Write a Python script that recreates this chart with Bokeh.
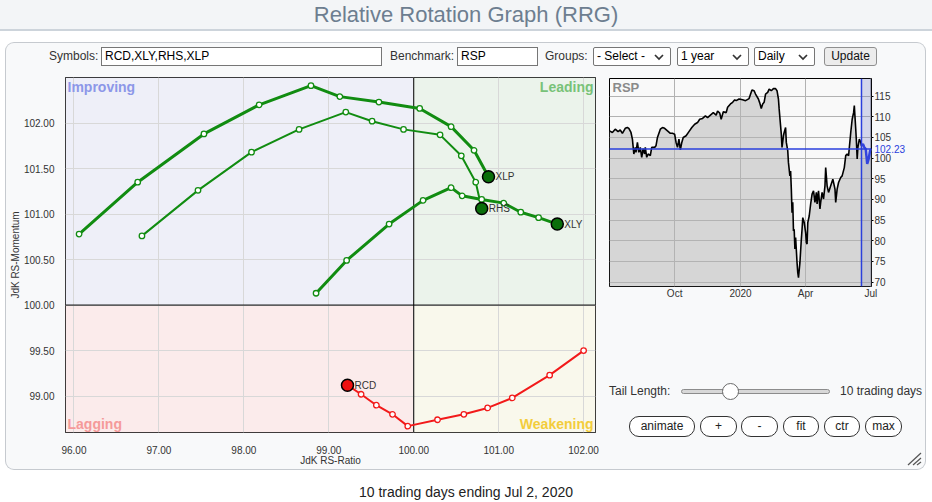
import datetime as dt
from bokeh.plotting import figure
from bokeh.models import (Range1d, Div, Label, Span, BoxAnnotation, FixedTicker,
                          NumeralTickFormatter)
from bokeh.layouts import column, row
from bokeh.embed import file_html
from bokeh.resources import INLINE
from bokeh.core.properties import value

FONT = "Liberation Sans"

# ---------------- RRG data (JdK RS-Ratio / JdK RS-Momentum), oldest -> latest ----------------
xlp_ratio = [96.06, 96.75, 97.53, 98.18, 98.79, 99.13, 99.59, 100.07, 100.44, 100.71, 100.88]
xlp_momentum = [100.78, 101.35, 101.88, 102.20, 102.41, 102.29, 102.23, 102.16, 101.96, 101.70, 101.41]
rhs_ratio = [96.80, 97.46, 98.09, 98.65, 99.20, 99.51, 99.88, 100.31, 100.56, 100.73, 100.80]
rhs_momentum = [100.76, 101.26, 101.68, 101.93, 102.12, 102.02, 101.93, 101.87, 101.64, 101.35, 101.06]
xly_ratio = [98.85, 99.21, 99.71, 100.11, 100.44, 100.57, 100.80, 101.06, 101.26, 101.47, 101.69]
xly_momentum = [100.13, 100.49, 100.89, 101.15, 101.29, 101.20, 101.16, 101.12, 101.02, 100.96, 100.89]
rcd_ratio = [102.00, 101.60, 101.16, 100.87, 100.59, 100.28, 99.93, 99.75, 99.56, 99.38, 99.22]
rcd_momentum = [99.50, 99.23, 98.98, 98.87, 98.80, 98.74, 98.67, 98.80, 98.90, 99.02, 99.12]

rrg_x_range = (95.90, 102.14)
rrg_y_range = (98.60, 102.50)
rrg_center = 100.0
rrg_x_ticks = [96, 97, 98, 99, 100, 101, 102]
rrg_y_ticks = [99.0, 99.5, 100.0, 100.5, 101.0, 101.5, 102.0]
quadrant_names = ["Improving", "Leading", "Lagging", "Weakening"]

# ---------------- Benchmark (RSP) price ----------------
rsp_dates = [
    "2019-07-02", "2019-07-06", "2019-07-10", "2019-07-14", "2019-07-17", "2019-07-20",
    "2019-07-24", "2019-07-27", "2019-07-29", "2019-08-01", "2019-08-03", "2019-08-05",
    "2019-08-07", "2019-08-08", "2019-08-10", "2019-08-12", "2019-08-14", "2019-08-16",
    "2019-08-18", "2019-08-20", "2019-08-21", "2019-08-23", "2019-08-25", "2019-08-28",
    "2019-08-30", "2019-09-03", "2019-09-05", "2019-09-07", "2019-09-11", "2019-09-14",
    "2019-09-17", "2019-09-21", "2019-09-25", "2019-09-28", "2019-10-01", "2019-10-03",
    "2019-10-05", "2019-10-07", "2019-10-09", "2019-10-11", "2019-10-13", "2019-10-17",
    "2019-10-21", "2019-10-25", "2019-10-29", "2019-11-02", "2019-11-05", "2019-11-09",
    "2019-11-13", "2019-11-16", "2019-11-20", "2019-11-24", "2019-11-28", "2019-11-30",
    "2019-12-03", "2019-12-05", "2019-12-08", "2019-12-12", "2019-12-14", "2019-12-18",
    "2019-12-21", "2019-12-24", "2019-12-26", "2019-12-30", "2020-01-04", "2020-01-08",
    "2020-01-13", "2020-01-17", "2020-01-20", "2020-01-22", "2020-01-26", "2020-01-28",
    "2020-01-30", "2020-02-01", "2020-02-03", "2020-02-05", "2020-02-08", "2020-02-10",
    "2020-02-13", "2020-02-16", "2020-02-19", "2020-02-21", "2020-02-23", "2020-02-24",
    "2020-02-26", "2020-02-27", "2020-02-28", "2020-03-01", "2020-03-02", "2020-03-04",
    "2020-03-05", "2020-03-07", "2020-03-08", "2020-03-10", "2020-03-11", "2020-03-12",
    "2020-03-13", "2020-03-14", "2020-03-15", "2020-03-16", "2020-03-17", "2020-03-18",
    "2020-03-20", "2020-03-21", "2020-03-22", "2020-03-24", "2020-03-26", "2020-03-27",
    "2020-03-28", "2020-03-30", "2020-04-01", "2020-04-02", "2020-04-03", "2020-04-04",
    "2020-04-06", "2020-04-08", "2020-04-10", "2020-04-12", "2020-04-14", "2020-04-16",
    "2020-04-17", "2020-04-19", "2020-04-21", "2020-04-22", "2020-04-24", "2020-04-26",
    "2020-04-28", "2020-04-29", "2020-05-01", "2020-05-03", "2020-05-06", "2020-05-09",
    "2020-05-12", "2020-05-13", "2020-05-15", "2020-05-17", "2020-05-20", "2020-05-22",
    "2020-05-25", "2020-05-27", "2020-05-29", "2020-05-31", "2020-06-03", "2020-06-05",
    "2020-06-07", "2020-06-08", "2020-06-09", "2020-06-10", "2020-06-11", "2020-06-12",
    "2020-06-13", "2020-06-15", "2020-06-17", "2020-06-18", "2020-06-20", "2020-06-22",
    "2020-06-24", "2020-06-26", "2020-06-28", "2020-06-30", "2020-07-02",
]
rsp_close = [
    106.6, 106.2, 107.0, 106.4, 106.8, 106.0,
    107.2, 107.4, 107.2, 106.2, 104.6, 101.0,
    102.6, 101.4, 103.8, 101.4, 102.6, 100.2,
    102.3, 101.0, 102.6, 100.2, 101.0, 100.6,
    102.6, 102.6, 103.0, 105.0, 107.0, 107.4,
    107.2, 106.6, 106.0, 106.0, 105.8, 103.8,
    102.6, 104.6, 102.0, 103.8, 105.0, 105.4,
    106.4, 107.4, 108.2, 108.6, 109.4, 109.6,
    110.2, 109.8, 110.4, 111.0, 110.4, 111.4,
    110.9, 109.4, 111.2, 111.0, 112.3, 113.1,
    113.5, 114.1, 113.9, 114.3, 114.1, 113.9,
    114.4, 116.5, 116.3, 115.5, 114.3, 113.3,
    112.0, 113.1, 113.5, 115.5, 115.9, 116.7,
    116.3, 116.8, 116.8, 116.3, 114.3, 111.9,
    107.8, 105.8, 102.6, 105.4, 106.2, 107.4,
    103.8, 101.8, 98.9, 95.7, 96.9, 92.5,
    86.8, 89.3, 82.4, 82.8, 78.0, 80.8,
    74.7, 72.3, 71.1, 74.7, 80.4, 82.8,
    85.6, 84.4, 82.0, 79.6, 79.2, 84.4,
    86.0, 88.9, 91.3, 92.1, 89.3, 91.7,
    88.9, 92.1, 87.7, 89.3, 91.7, 90.1,
    93.3, 97.7, 93.3, 91.7, 93.3, 94.9,
    92.5, 89.3, 92.5, 94.1, 95.3, 95.7,
    97.7, 100.6, 101.0, 100.6, 106.2, 109.4,
    111.0, 112.7, 109.8, 107.0, 103.8, 99.8,
    102.6, 104.6, 103.8, 103.0, 103.4, 102.6,
    102.2, 98.6, 99.8, 101.8, 102.23,
]
rsp_last = 102.23
tail_start = "2020-06-18"
mini_x_range = ("2019-07-02", "2020-07-02")
mini_y_range = (68.94, 119.26)
mini_y_ticks = [70, 75, 80, 85, 90, 95, 100, 105, 110, 115]
mini_x_ticks = ["2019-10-01", "2020-01-01", "2020-04-01", "2020-07-01"]
mini_x_labels = ["Oct", "2020", "Apr", "Jul"]

footer_text = "10 trading days ending Jul 2, 2020"


def to_dt(s):
    return dt.datetime.strptime(s, "%Y-%m-%d")


def to_ms(s):
    return (to_dt(s) - dt.datetime(1970, 1, 1)).total_seconds() * 1000.0


PANEL_BG = "#f8f9fa"
GREEN = "#118c11"
HEAD_GREEN = "#0a6e0a"
RED = "#f21a1a"
HEAD_RED = "#ee1111"

# ---------------- RRG figure ----------------
p = figure(width=596, height=397, x_range=Range1d(*rrg_x_range), y_range=Range1d(*rrg_y_range),
           output_backend="svg", toolbar_location=None, margin=0,
           min_border_left=59, min_border_right=7, min_border_top=5, min_border_bottom=37,
           border_fill_color=None, background_fill_color="white",
           outline_line_color="black", outline_line_width=1)

x0, x1 = rrg_x_range
y0, y1 = rrg_y_range
c = rrg_center
p.quad(left=[x0, c, x0, c], right=[c, x1, c, x1], bottom=[c, c, y0, y0], top=[y1, y1, c, c],
       fill_color=["#eeeff8", "#ebf3eb", "#fbebeb", "#f9f8ec"], line_color=None, level="image")

p.xaxis.ticker = FixedTicker(ticks=rrg_x_ticks)
p.yaxis.ticker = FixedTicker(ticks=rrg_y_ticks)
for ax in (p.xaxis, p.yaxis):
    ax.formatter = NumeralTickFormatter(format="0.00")
    ax.axis_line_color = None
    ax.major_tick_line_color = None
    ax.minor_tick_line_color = None
    ax.major_tick_out = 0
    ax.major_tick_in = 0
    ax.major_label_text_font = FONT
    ax.major_label_text_font_size = "10px"
    ax.major_label_text_color = "#333333"
    ax.axis_label_text_font = FONT
    ax.axis_label_text_font_size = "10px"
    ax.axis_label_text_font_style = "normal"
    ax.axis_label_text_color = "#333333"
p.xaxis.axis_label = "JdK RS-Ratio"
p.yaxis.axis_label = "JdK RS-Momentum"
p.xaxis.major_label_standoff = 13
p.xaxis.axis_label_standoff = -2
p.yaxis.major_label_standoff = 11
p.yaxis.axis_label_standoff = 0
p.grid.grid_line_color = "#d8d8d8"
p.grid.grid_line_width = 1

p.add_layout(Span(location=c, dimension="height", line_color="black", line_width=1, level="underlay"))
p.add_layout(Span(location=c, dimension="width", line_color="black", line_width=1, level="underlay"))

q_colors = ["#8c97e8", "#78c278", "#f59a9a", "#f3cd3c"]
q_pos = [(x0, y1, "left", "top", 2, -1), (x1, y1, "right", "top", -2, -1),
         (x0, y0, "left", "bottom", 2, 1), (x1, y0, "right", "bottom", -2, 1)]
for name, col, (qx, qy, al, bl, xo, yo) in zip(quadrant_names, q_colors, q_pos):
    p.add_layout(Label(x=qx, y=qy, text=name, text_align=al, text_baseline=bl,
                       x_offset=xo, y_offset=yo, text_font=FONT, text_font_size="14px",
                       text_font_style="bold", text_color=col))

series = [
    ("XLY", xly_ratio, xly_momentum, 3, GREEN, HEAD_GREEN),
    ("RHS", rhs_ratio, rhs_momentum, 2, GREEN, HEAD_GREEN),
    ("XLP", xlp_ratio, xlp_momentum, 3, GREEN, HEAD_GREEN),
    ("RCD", rcd_ratio, rcd_momentum, 2, RED, HEAD_RED),
]
for name, xs, ys, lw, col, hcol in series:
    p.line(xs, ys, line_color=col, line_width=lw)
for name, xs, ys, lw, col, hcol in series:
    p.scatter(xs[:-1], ys[:-1], size=5.5, fill_color="white", line_color=col, line_width=1.3)
for name, xs, ys, lw, col, hcol in series:
    p.scatter([xs[-1]], [ys[-1]], size=12, fill_color=hcol, line_color="black", line_width=1.5)
    p.text([xs[-1]], [ys[-1]], text=[name], x_offset=7, text_baseline="middle",
           text_align="left", text_font=value(FONT), text_font_size="10px", text_color="#333333")

# ---------------- Benchmark mini chart ----------------
m = figure(width=323, height=231, x_axis_type="datetime", y_axis_location="right",
           x_range=Range1d(start=to_dt(mini_x_range[0]), end=to_dt(mini_x_range[1])),
           y_range=Range1d(*mini_y_range),
           output_backend="svg", toolbar_location=None, margin=0,
           min_border_left=7, min_border_right=52, min_border_top=6, min_border_bottom=17,
           border_fill_color=None, background_fill_color="#f9f9f9",
           outline_line_color="black", outline_line_width=1)

m.xaxis.ticker = FixedTicker(ticks=[to_ms(s) for s in mini_x_ticks])
m.xaxis.major_label_overrides = {to_ms(s): lab for s, lab in zip(mini_x_ticks, mini_x_labels)}
m.yaxis.ticker = FixedTicker(ticks=mini_y_ticks)
for ax in (m.xaxis, m.yaxis):
    ax.axis_line_color = None
    ax.minor_tick_line_color = None
    ax.major_label_text_font = FONT
    ax.major_label_text_font_size = "10px"
    ax.major_label_text_color = "#333333"
m.xaxis.major_tick_line_color = None
m.xaxis.major_tick_out = 0
m.xaxis.major_tick_in = 0
m.xaxis.major_label_standoff = 1
m.yaxis.major_tick_line_color = "black"
m.yaxis.major_tick_out = 2
m.yaxis.major_tick_in = 0
m.yaxis.major_label_standoff = 1
m.grid.grid_line_color = "#b2b2b2"
m.grid.grid_line_width = 1

rdt = [to_dt(s) for s in rsp_dates]
i_tail = rsp_dates.index(tail_start)
m.add_layout(BoxAnnotation(left=to_dt(tail_start), fill_color="#6470c0", fill_alpha=0.25,
                           line_color=None, level="underlay"))
m.varea(x=rdt, y1=mini_y_range[0], y2=rsp_close, fill_color="#b4b4b4", fill_alpha=0.5)
m.line(rdt[:i_tail + 1], rsp_close[:i_tail + 1], line_color="black", line_width=1.6)
m.line(rdt[i_tail:], rsp_close[i_tail:], line_color="#3344dd", line_width=2.5)
m.add_layout(Span(location=rsp_last, dimension="width", line_color="#2a3fdc", line_width=1.5))
m.add_layout(Span(location=to_dt(tail_start), dimension="height", line_color="#2a3fdc",
                  line_width=1.5))
# last-price tag placed in the right-hand side panel, next to the price axis
m.add_layout(Label(x=272, x_units="canvas", y=rsp_last, y_units="data", text=f"{rsp_last:.2f}",
                   text_baseline="middle", text_align="left", text_font=FONT,
                   text_font_size="10px", text_color="#2a3fdc",
                   background_fill_color=PANEL_BG), "right")
m.add_layout(Label(x=to_dt(mini_x_range[0]), y=mini_y_range[1], text="RSP", x_offset=3,
                   y_offset=-1, text_baseline="top", text_align="left", text_font=FONT,
                   text_font_size="13px", text_font_style="bold", text_color="#8a8a8a"))

# ---------------- HTML parts ----------------
BASE = f"font-family:'{FONT}',Arial,sans-serif;"


def abs_text(left, top, h, txt, extra=""):
    return (f'<span style="position:absolute;left:{left}px;top:{top}px;height:{h}px;'
            f'line-height:{h}px;white-space:nowrap;{extra}">{txt}</span>')


def abs_box(left, top, w, h, inner, extra=""):
    return (f'<div style="position:absolute;left:{left}px;top:{top}px;width:{w}px;height:{h}px;'
            f'box-sizing:border-box;line-height:{h - 2}px;white-space:nowrap;{extra}">{inner}</div>')


CHEV = ('<svg width="10" height="7" style="position:absolute;right:6px;top:6px">'
        '<polyline points="1,1 5,5 9,1" fill="none" stroke="#333" stroke-width="1.7"/></svg>')

title_html = (f'<div style="{BASE}width:932px;height:31px;background:#f3f5f7;'
              f'border-bottom:2px solid #cdd4db;color:#6d7e90;font-size:22px;'
              f'text-align:center;line-height:30px;">Relative Rotation Graph (RRG)</div>')
title_div = Div(text=title_html, width=932, height=42, margin=0)

inp = "border:1px solid #767676;background:#ffffff;color:#000;padding-left:3px;"
sel = "border:1px solid #767676;border-radius:2px;background:#ffffff;color:#000;padding-left:3px;"
controls_html = (
    f'<div style="{BASE}position:relative;width:919px;height:29px;font-size:12px;color:#333;">'
    + abs_text(43, 4, 19, "Symbols:")
    + abs_box(95, 4, 281, 19, "RCD,XLY,RHS,XLP", inp)
    + abs_text(384, 4, 19, "Benchmark:")
    + abs_box(451, 4, 81, 19, "RSP", inp)
    + abs_text(539, 4, 19, "Groups:")
    + abs_box(587, 4, 78, 19, "- Select -" + CHEV, sel)
    + abs_box(671, 4, 72, 19, "1 year" + CHEV, sel)
    + abs_box(748, 4, 61, 19, "Daily" + CHEV, sel)
    + abs_box(818, 4, 53, 19, "Update",
              "border:1px solid #8f8f8f;border-radius:3px;background:#ececec;color:#111;text-align:center;")
    + '</div>'
)
controls_div = Div(text=controls_html, width=919, height=29, margin=0)

btn = "border:1px solid #333;border-radius:10px;background:#ffffff;color:#222;text-align:center;font-size:12px;"
grip = ('<svg width="16" height="15" style="position:absolute;left:304px;top:148px">'
        '<line x1="15" y1="2" x2="2" y2="14" stroke="#555" stroke-width="1.2"/>'
        '<line x1="15" y1="7" x2="7" y2="14" stroke="#555" stroke-width="1.2"/>'
        '<line x1="15" y1="11" x2="11" y2="14" stroke="#555" stroke-width="1.2"/></svg>')
tail_html = (
    f'<div style="{BASE}position:relative;width:323px;height:166px;font-size:12px;color:#333;">'
    + abs_text(7, 79, 18, "Tail Length:")
    + abs_box(79, 86, 149, 5, "", "border:1px solid #8c8c8c;border-radius:3px;background:#d8d8d8;")
    + abs_box(120, 80, 17, 17, "", "border:1px solid #6a6a6a;border-radius:50%;background:#ffffff;")
    + abs_text(238, 79, 18, "10 trading days")
    + abs_box(27, 113, 66, 21, "animate", btn)
    + abs_box(98, 113, 37, 21, "+", btn)
    + abs_box(139, 113, 37, 21, "-", btn)
    + abs_box(181, 113, 36, 21, "fit", btn)
    + abs_box(222, 113, 36, 21, "ctr", btn)
    + abs_box(263, 113, 37, 21, "max", btn)
    + grip
    + '</div>'
)
tail_div = Div(text=tail_html, width=323, height=166, margin=0)

footer_html = (f'<div style="{BASE}width:932px;padding-top:14px;line-height:16px;font-size:14px;'
               f'color:#222;text-align:center;">{footer_text}</div>')
footer_div = Div(text=footer_html, width=932, height=32, margin=0)

right_col = column(m, tail_div, spacing=0, margin=0)
charts_row = row(p, right_col, spacing=0, margin=0)
panel = column(controls_div, charts_row, spacing=0, margin=(1, 7, 1, 6),
               styles={"background-color": PANEL_BG, "box-shadow": "0 0 0 1px #c6cacf",
                       "border-radius": "8px"})
page = column(title_div, panel, footer_div, spacing=0, margin=0)

open("out.html", "w").write(file_html(page, INLINE))
